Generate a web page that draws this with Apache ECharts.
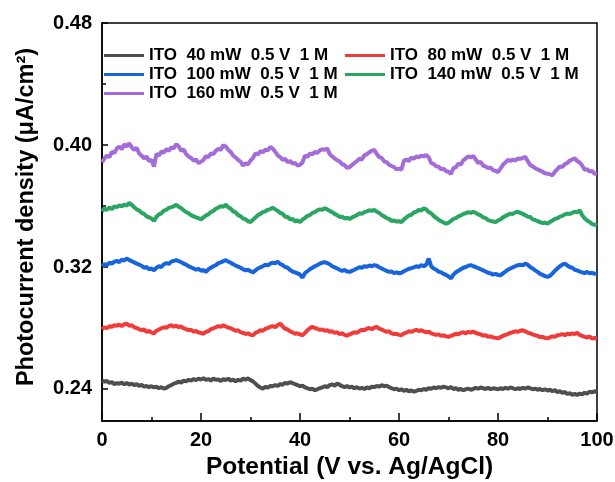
<!DOCTYPE html>
<html>
<head>
<meta charset="utf-8">
<script src="https://cdn.jsdelivr.net/npm/echarts@6/dist/echarts.min.js"></script>
<style>
  html, body { margin: 0; padding: 0; background: #fff; }
  #chart { width: 615px; height: 482px; }
</style>
</head>
<body>
<div id="chart"></div>
<script>
// Photocurrent density traces, sampled every 0.5 V from 0 to 100 V.
const potentialStep = 0.5;

const seriesNames = [
  'ITO  40 mW  0.5 V  1 M',
  'ITO  80 mW  0.5 V  1 M',
  'ITO  100 mW  0.5 V  1 M',
  'ITO  140 mW  0.5 V  1 M',
  'ITO  160 mW  0.5 V  1 M'
];

const xTicks = [0, 20, 40, 60, 80, 100];
const yTicks = [0.24, 0.32, 0.40, 0.48];
const yMinorTicks = [0.28, 0.36, 0.44];

const ito40 = [
  0.2455, 0.2448, 0.2452, 0.2440, 0.2445, 0.2432, 0.2438, 0.2435, 0.2442, 0.2430,
  0.2440, 0.2428, 0.2435, 0.2425, 0.2432, 0.2420, 0.2428, 0.2415, 0.2420, 0.2412,
  0.2418, 0.2410, 0.2415, 0.2405, 0.2412, 0.2402, 0.2408, 0.2418, 0.2425, 0.2435,
  0.2440, 0.2448, 0.2442, 0.2455, 0.2450, 0.2460, 0.2455, 0.2465, 0.2458, 0.2468,
  0.2462, 0.2470, 0.2460, 0.2465, 0.2455, 0.2468, 0.2460, 0.2462, 0.2452, 0.2465,
  0.2458, 0.2468, 0.2455, 0.2462, 0.2450, 0.2460, 0.2455, 0.2468, 0.2460, 0.2470,
  0.2458, 0.2450, 0.2435, 0.2420, 0.2410, 0.2402, 0.2415, 0.2408, 0.2420, 0.2418,
  0.2425, 0.2420, 0.2432, 0.2428, 0.2440, 0.2435, 0.2445, 0.2438, 0.2432, 0.2425,
  0.2418, 0.2422, 0.2410, 0.2405, 0.2398, 0.2402, 0.2392, 0.2398, 0.2405, 0.2410,
  0.2418, 0.2412, 0.2425, 0.2430, 0.2422, 0.2435, 0.2428, 0.2418, 0.2412, 0.2420,
  0.2410, 0.2415, 0.2405, 0.2412, 0.2402, 0.2408, 0.2400, 0.2410, 0.2405, 0.2415,
  0.2412, 0.2420, 0.2415, 0.2425, 0.2418, 0.2422, 0.2412, 0.2405, 0.2398, 0.2402,
  0.2392, 0.2398, 0.2388, 0.2395, 0.2385, 0.2390, 0.2382, 0.2388, 0.2395, 0.2392,
  0.2400, 0.2395, 0.2405, 0.2402, 0.2410, 0.2405, 0.2412, 0.2408, 0.2415, 0.2410,
  0.2405, 0.2412, 0.2400, 0.2405, 0.2395, 0.2400, 0.2392, 0.2398, 0.2402, 0.2395,
  0.2400, 0.2408, 0.2402, 0.2410, 0.2405, 0.2400, 0.2408, 0.2398, 0.2405, 0.2402,
  0.2398, 0.2405, 0.2400, 0.2408, 0.2402, 0.2410, 0.2405, 0.2398, 0.2405, 0.2400,
  0.2408, 0.2402, 0.2410, 0.2405, 0.2398, 0.2402, 0.2395, 0.2400, 0.2392, 0.2398,
  0.2390, 0.2395, 0.2385, 0.2392, 0.2380, 0.2385, 0.2375, 0.2380, 0.2368, 0.2372,
  0.2362, 0.2368, 0.2360, 0.2370, 0.2365, 0.2375, 0.2370, 0.2382, 0.2378, 0.2385,
  0.2380
];

const ito80 = [
  0.2792, 0.2805, 0.2798, 0.2812, 0.2808, 0.2818, 0.2815, 0.2822, 0.2812, 0.2825,
  0.2828, 0.2815, 0.2818, 0.2805, 0.2800, 0.2792, 0.2785, 0.2790, 0.2775, 0.2780,
  0.2770, 0.2765, 0.2782, 0.2790, 0.2798, 0.2805, 0.2802, 0.2812, 0.2818, 0.2808,
  0.2815, 0.2805, 0.2810, 0.2798, 0.2792, 0.2785, 0.2788, 0.2775, 0.2780, 0.2770,
  0.2768, 0.2762, 0.2775, 0.2780, 0.2792, 0.2798, 0.2805, 0.2812, 0.2808, 0.2818,
  0.2810, 0.2802, 0.2798, 0.2790, 0.2782, 0.2785, 0.2772, 0.2768, 0.2760, 0.2765,
  0.2755, 0.2752, 0.2768, 0.2775, 0.2785, 0.2782, 0.2795, 0.2800, 0.2808, 0.2812,
  0.2805, 0.2820, 0.2828, 0.2810, 0.2795, 0.2790, 0.2778, 0.2770, 0.2762, 0.2765,
  0.2758, 0.2752, 0.2768, 0.2785, 0.2798, 0.2808, 0.2800, 0.2795, 0.2788, 0.2790,
  0.2782, 0.2785, 0.2775, 0.2778, 0.2768, 0.2772, 0.2760, 0.2765, 0.2755, 0.2750,
  0.2758, 0.2765, 0.2772, 0.2768, 0.2780, 0.2788, 0.2785, 0.2795, 0.2800, 0.2792,
  0.2802, 0.2808, 0.2795, 0.2790, 0.2782, 0.2775, 0.2778, 0.2765, 0.2760, 0.2762,
  0.2755, 0.2752, 0.2765, 0.2770, 0.2778, 0.2775, 0.2782, 0.2788, 0.2780, 0.2785,
  0.2778, 0.2772, 0.2775, 0.2765, 0.2760, 0.2755, 0.2758, 0.2748, 0.2752, 0.2745,
  0.2742, 0.2748, 0.2755, 0.2762, 0.2758, 0.2768, 0.2772, 0.2765, 0.2775, 0.2770,
  0.2776, 0.2768, 0.2762, 0.2758, 0.2750, 0.2752, 0.2742, 0.2745, 0.2738, 0.2735,
  0.2732, 0.2740, 0.2748, 0.2755, 0.2760, 0.2768, 0.2772, 0.2778, 0.2775, 0.2782,
  0.2785, 0.2778, 0.2770, 0.2765, 0.2758, 0.2752, 0.2748, 0.2740, 0.2742, 0.2735,
  0.2732, 0.2738, 0.2745, 0.2742, 0.2752, 0.2755, 0.2760, 0.2752, 0.2762, 0.2758,
  0.2765, 0.2760, 0.2768, 0.2755, 0.2748, 0.2742, 0.2738, 0.2745, 0.2730, 0.2735,
  0.2728
];

const ito100 = [
  0.3205, 0.3218, 0.3212, 0.3228, 0.3222, 0.3235, 0.3240, 0.3232, 0.3248, 0.3242,
  0.3256, 0.3245, 0.3238, 0.3230, 0.3222, 0.3215, 0.3208, 0.3195, 0.3200, 0.3185,
  0.3190, 0.3178, 0.3195, 0.3205, 0.3200, 0.3218, 0.3225, 0.3220, 0.3235, 0.3240,
  0.3245, 0.3238, 0.3232, 0.3222, 0.3215, 0.3205, 0.3198, 0.3190, 0.3182, 0.3188,
  0.3175, 0.3180, 0.3168, 0.3185, 0.3195, 0.3205, 0.3212, 0.3225, 0.3230, 0.3238,
  0.3245, 0.3235, 0.3228, 0.3218, 0.3210, 0.3202, 0.3195, 0.3185, 0.3178, 0.3182,
  0.3172, 0.3165, 0.3178, 0.3190, 0.3198, 0.3205, 0.3215, 0.3210, 0.3222, 0.3228,
  0.3225, 0.3235, 0.3220, 0.3212, 0.3200, 0.3195, 0.3180, 0.3170, 0.3165, 0.3158,
  0.3150, 0.3130, 0.3160, 0.3172, 0.3185, 0.3195, 0.3205, 0.3212, 0.3222, 0.3228,
  0.3232, 0.3225, 0.3218, 0.3205, 0.3198, 0.3190, 0.3182, 0.3175, 0.3180, 0.3170,
  0.3168, 0.3175, 0.3182, 0.3190, 0.3198, 0.3195, 0.3205, 0.3202, 0.3210, 0.3205,
  0.3212, 0.3208, 0.3198, 0.3190, 0.3182, 0.3175, 0.3168, 0.3170, 0.3160, 0.3165,
  0.3158, 0.3162, 0.3172, 0.3180, 0.3188, 0.3192, 0.3198, 0.3205, 0.3200, 0.3212,
  0.3205, 0.3215, 0.3255, 0.3205, 0.3190, 0.3182, 0.3170, 0.3165, 0.3155, 0.3148,
  0.3138, 0.3125, 0.3150, 0.3165, 0.3175, 0.3185, 0.3195, 0.3200, 0.3208, 0.3212,
  0.3205, 0.3200, 0.3192, 0.3185, 0.3178, 0.3170, 0.3162, 0.3158, 0.3150, 0.3155,
  0.3148, 0.3145, 0.3158, 0.3170, 0.3182, 0.3190, 0.3198, 0.3205, 0.3212, 0.3215,
  0.3210, 0.3222, 0.3215, 0.3200, 0.3190, 0.3178, 0.3168, 0.3155, 0.3148, 0.3140,
  0.3135, 0.3142, 0.3158, 0.3175, 0.3190, 0.3205, 0.3215, 0.3222, 0.3210, 0.3200,
  0.3195, 0.3182, 0.3178, 0.3170, 0.3165, 0.3160, 0.3168, 0.3158, 0.3162, 0.3155,
  0.3158
];

const ito140 = [
  0.3565, 0.3582, 0.3575, 0.3590, 0.3580, 0.3598, 0.3592, 0.3605, 0.3596, 0.3610,
  0.3602, 0.3620, 0.3608, 0.3592, 0.3578, 0.3570, 0.3555, 0.3548, 0.3532, 0.3525,
  0.3518, 0.3502, 0.3530, 0.3545, 0.3552, 0.3570, 0.3575, 0.3588, 0.3592, 0.3598,
  0.3608, 0.3595, 0.3585, 0.3572, 0.3560, 0.3552, 0.3540, 0.3532, 0.3525, 0.3520,
  0.3512, 0.3525, 0.3538, 0.3545, 0.3560, 0.3568, 0.3582, 0.3590, 0.3598, 0.3595,
  0.3608, 0.3592, 0.3582, 0.3565, 0.3558, 0.3540, 0.3532, 0.3518, 0.3512, 0.3500,
  0.3495, 0.3510, 0.3525, 0.3540, 0.3548, 0.3560, 0.3565, 0.3575, 0.3580, 0.3588,
  0.3578, 0.3568, 0.3555, 0.3548, 0.3530, 0.3528, 0.3512, 0.3515, 0.3500, 0.3505,
  0.3494, 0.3510, 0.3522, 0.3535, 0.3540, 0.3555, 0.3560, 0.3572, 0.3578, 0.3575,
  0.3585, 0.3578, 0.3568, 0.3560, 0.3548, 0.3540, 0.3528, 0.3530, 0.3518, 0.3522,
  0.3515, 0.3525, 0.3532, 0.3540, 0.3552, 0.3548, 0.3560, 0.3565, 0.3572, 0.3568,
  0.3575, 0.3562, 0.3555, 0.3540, 0.3532, 0.3520, 0.3515, 0.3502, 0.3505, 0.3498,
  0.3500, 0.3494, 0.3512, 0.3525, 0.3538, 0.3542, 0.3558, 0.3562, 0.3575, 0.3570,
  0.3585, 0.3578, 0.3560, 0.3552, 0.3535, 0.3522, 0.3510, 0.3500, 0.3492, 0.3484,
  0.3490, 0.3502, 0.3515, 0.3520, 0.3532, 0.3538, 0.3548, 0.3552, 0.3560, 0.3555,
  0.3562, 0.3555, 0.3545, 0.3538, 0.3525, 0.3520, 0.3508, 0.3502, 0.3498, 0.3495,
  0.3505, 0.3512, 0.3525, 0.3535, 0.3542, 0.3550, 0.3548, 0.3558, 0.3562, 0.3555,
  0.3548, 0.3540, 0.3530, 0.3528, 0.3512, 0.3508, 0.3500, 0.3495, 0.3488, 0.3492,
  0.3484, 0.3495, 0.3505, 0.3515, 0.3520, 0.3530, 0.3535, 0.3545, 0.3550, 0.3548,
  0.3555, 0.3562, 0.3558, 0.3572, 0.3540, 0.3520, 0.3505, 0.3495, 0.3482, 0.3478,
  0.3472
];

const ito160 = [
  0.3885, 0.3912, 0.3930, 0.3921, 0.3955, 0.3947, 0.3978, 0.3990, 0.3972, 0.4004,
  0.3990, 0.4012, 0.3985, 0.3968, 0.3982, 0.3945, 0.3930, 0.3912, 0.3925, 0.3895,
  0.3902, 0.3858, 0.3942, 0.3930, 0.3958, 0.3950, 0.3972, 0.3962, 0.3985, 0.3978,
  0.4006, 0.3990, 0.3962, 0.3970, 0.3940, 0.3925, 0.3915, 0.3898, 0.3905, 0.3882,
  0.3890, 0.3902, 0.3928, 0.3920, 0.3945, 0.3940, 0.3962, 0.3975, 0.3968, 0.3998,
  0.3990, 0.3968, 0.3955, 0.3930, 0.3918, 0.3902, 0.3890, 0.3865, 0.3880, 0.3872,
  0.3898, 0.3915, 0.3945, 0.3938, 0.3960, 0.3952, 0.3970, 0.3965, 0.3988, 0.3975,
  0.3955, 0.3932, 0.3920, 0.3902, 0.3910, 0.3888, 0.3895, 0.3878, 0.3882, 0.3865,
  0.3870, 0.3885, 0.3930, 0.3922, 0.3945, 0.3938, 0.3955, 0.3948, 0.3965, 0.3972,
  0.3968, 0.3978, 0.3940, 0.3925, 0.3912, 0.3900, 0.3892, 0.3875, 0.3868, 0.3850,
  0.3855, 0.3868, 0.3882, 0.3895, 0.3910, 0.3905, 0.3932, 0.3940, 0.3952, 0.3962,
  0.3968, 0.3942, 0.3920, 0.3915, 0.3892, 0.3888, 0.3870, 0.3862, 0.3855, 0.3840,
  0.3845, 0.3838, 0.3898, 0.3905, 0.3895, 0.3918, 0.3910, 0.3925, 0.3918, 0.3930,
  0.3925, 0.3935, 0.3920, 0.3882, 0.3875, 0.3860, 0.3858, 0.3840, 0.3845, 0.3828,
  0.3825, 0.3810, 0.3848, 0.3855, 0.3878, 0.3872, 0.3900, 0.3912, 0.3925, 0.3918,
  0.3928, 0.3905, 0.3882, 0.3890, 0.3865, 0.3858, 0.3848, 0.3852, 0.3835, 0.3830,
  0.3822, 0.3845, 0.3870, 0.3885, 0.3902, 0.3895, 0.3905, 0.3898, 0.3912, 0.3908,
  0.3915, 0.3922, 0.3895, 0.3868, 0.3860, 0.3848, 0.3840, 0.3832, 0.3825, 0.3815,
  0.3812, 0.3808, 0.3800, 0.3825, 0.3842, 0.3860, 0.3855, 0.3875, 0.3882, 0.3898,
  0.3905, 0.3912, 0.3895, 0.3885, 0.3865, 0.3838, 0.3842, 0.3825, 0.3830, 0.3812,
  0.3808
];

const seriesValues = [ito40, ito80, ito100, ito140, ito160];
const seriesColors = ['#4f4f4f', '#f03b3b', '#1764dc', '#2aa562', '#a46cd8'];

const FONT = '"Liberation Sans", Arial, sans-serif';

function toPoints(values) {
  return values.map((v, i) => [i * potentialStep, v]);
}

// one legend block per entry, laid out in two columns
const legendSlots = [
  { left: 104, top: 47 },
  { left: 345, top: 47 },
  { left: 104, top: 66 },
  { left: 345, top: 66 },
  { left: 104, top: 85 }
];

const legends = seriesNames.map((name, i) => ({
  data: [name],
  left: legendSlots[i].left,
  top: legendSlots[i].top,
  padding: 0,
  icon: 'rect',
  itemWidth: 40,
  itemHeight: 3,
  itemGap: 0,
  selectedMode: false,
  textStyle: { fontFamily: FONT, fontWeight: 'bold', fontSize: 17, color: '#000' }
}));

const chart = echarts.init(document.getElementById('chart'), null, { renderer: 'canvas' });

chart.setOption({
  animation: false,
  backgroundColor: '#fff',
  legend: legends,
  grid: {
    left: 102, right: 18, top: 23, bottom: 61,
    outerBoundsMode: 'none',
    show: true, borderColor: '#000', borderWidth: 1.5, backgroundColor: 'transparent'
  },
  xAxis: {
    type: 'value',
    min: xTicks[0],
    max: xTicks[xTicks.length - 1],
    interval: 20,
    name: 'Potential (V vs. Ag/AgCl)',
    nameLocation: 'middle',
    nameGap: 34,
    nameTextStyle: { fontFamily: FONT, fontWeight: 'bold', fontSize: 24.5, color: '#000' },
    axisLine: { show: true, lineStyle: { color: '#000', width: 1.5 } },
    axisTick: { show: true, inside: true, length: 8, lineStyle: { color: '#000', width: 1.5 } },
    minorTick: { show: true, splitNumber: 2, length: 4, lineStyle: { color: '#000', width: 1.5 } },
    axisLabel: { margin: 9, fontFamily: FONT, fontWeight: 'bold', fontSize: 20, color: '#000' },
    splitLine: { show: false }
  },
  yAxis: [
    {
      type: 'value',
      min: 0.219,
      max: 0.48,
      name: 'Photocurrent density (\u03bcA/cm\u00b2)',
      nameLocation: 'middle',
      nameGap: 63,
      nameTextStyle: { fontFamily: FONT, fontWeight: 'bold', fontSize: 23.5, color: '#000', padding: [0, 0, 0, 10] },
      axisLine: { show: true, lineStyle: { color: '#000', width: 1.5 } },
      axisTick: { show: true, inside: true, length: 6, customValues: yTicks, lineStyle: { color: '#000', width: 1.5 } },
      axisLabel: {
        margin: 10, customValues: yTicks, fontFamily: FONT, fontWeight: 'bold', fontSize: 20, color: '#000',
        formatter: (v) => v.toFixed(2)
      },
      splitLine: { show: false }
    },
    {
      type: 'value',
      min: 0.219,
      max: 0.48,
      position: 'left',
      axisLine: { show: false },
      axisTick: { show: true, inside: true, length: 4, customValues: yMinorTicks, lineStyle: { color: '#000', width: 1.5 } },
      axisLabel: { show: false },
      splitLine: { show: false }
    }
  ],
  series: seriesNames.map((name, i) => ({
    name: name,
    type: 'line',
    yAxisIndex: 0,
    data: toPoints(seriesValues[i]),
    showSymbol: false,
    symbol: 'none',
    color: seriesColors[i],
    lineStyle: { color: seriesColors[i], width: 4 }
  }))
});
</script>
</body>
</html>
